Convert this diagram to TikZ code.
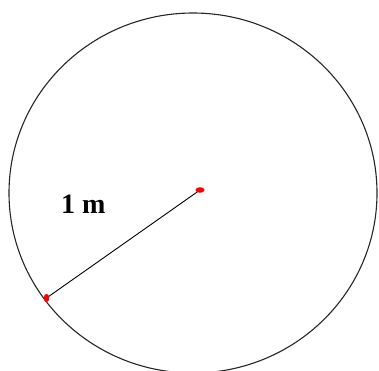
\documentclass[tikz,border=0pt]{standalone}
\usepackage{fontspec}
\setmainfont{Liberation Serif}
\begin{document}
\begin{tikzpicture}[x=1pt,y=-1pt,
  rim/.style={draw=black!85,line width=1.1pt},
  radius line/.style={draw=black,line width=0.9pt},
  reddot/.style={fill=red,draw=none}]
\useasboundingbox (0,0) rectangle (379,370);
\begin{scope}
\clip (0,0) rectangle (379,370);
\draw[rim] (193,193) ellipse [x radius=184, y radius=180];
\end{scope}
\coordinate (c) at (200,190);
\coordinate (p) at (46.5,298);
\draw[radius line] (p) -- (c);
\fill[reddot] (c) ellipse [x radius=4.5, y radius=2.8];
\fill[reddot] (p) ellipse [x radius=2.8, y radius=4.2];
\node[anchor=base west,inner sep=0pt,font=\fontsize{28}{32}\selectfont\bfseries] (lbl) at (61,213) {1 m};
\end{tikzpicture}
\end{document}
